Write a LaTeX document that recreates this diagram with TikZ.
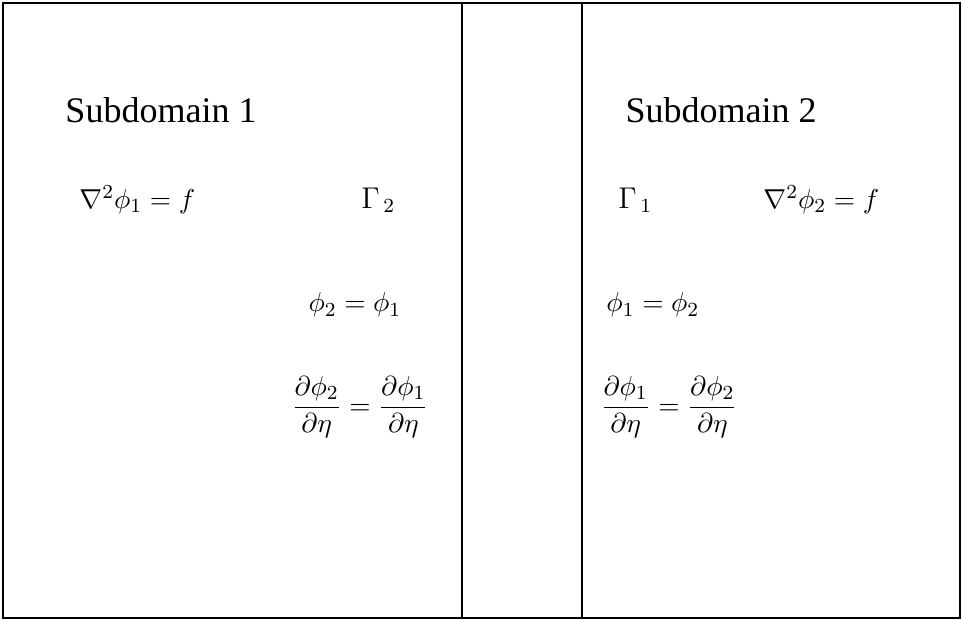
\documentclass[tikz,border=0pt]{standalone}
\usepackage{fontspec}
\setmainfont{Liberation Serif}
\usetikzlibrary{positioning}
\tikzset{
  rahmen/.style={draw,line width=1.1pt},
  titel/.style={font=\fontsize{14.4}{16}\selectfont,anchor=base west,inner sep=0pt},
  formel/.style={font=\fontsize{10.95}{13}\selectfont,anchor=base west,inner sep=0pt},
  rand/.style={titel,font=\fontsize{12}{14}\selectfont},
}
\begin{document}
\begin{tikzpicture}[x=0.4pt,y=-0.4pt]
  \useasboundingbox (0,0) rectangle (963,620);
  % Gebiete und Trennlinien
  \draw[rahmen] (3,3) rectangle (960,618);
  \draw[rahmen] (462,3) -- (462,618);
  \draw[rahmen] (582,3) -- (582,618);
  % Teilgebiet 1
  \node[titel] (sub1) at (65,123) {Subdomain 1};
  \node[formel] (pde1) at (79,208) {$\nabla^2\phi_1 = f$};
  \node[rand] (gam2) at (361,208) {$\Gamma_{\,2}$};
  \node[formel] (dir1) at (308,312) {$\phi_2 = \phi_1$};
  \node[formel] (neu1) at (291,414) {$\displaystyle\frac{\partial\phi_2}{\partial\eta} = \frac{\partial\phi_1}{\partial\eta}$};
  % Teilgebiet 2
  \node[titel] (sub2) at (625,123) {Subdomain 2};
  \node[rand] (gam1) at (618,208) {$\Gamma_{\,1}$};
  \node[formel] (pde2) at (763,208) {$\nabla^2\phi_2 = f$};
  \node[formel] (dir2) at (606,312) {$\phi_1 = \phi_2$};
  \node[formel] (neu2) at (600,414) {$\displaystyle\frac{\partial\phi_1}{\partial\eta} = \frac{\partial\phi_2}{\partial\eta}$};
\end{tikzpicture}
\end{document}
